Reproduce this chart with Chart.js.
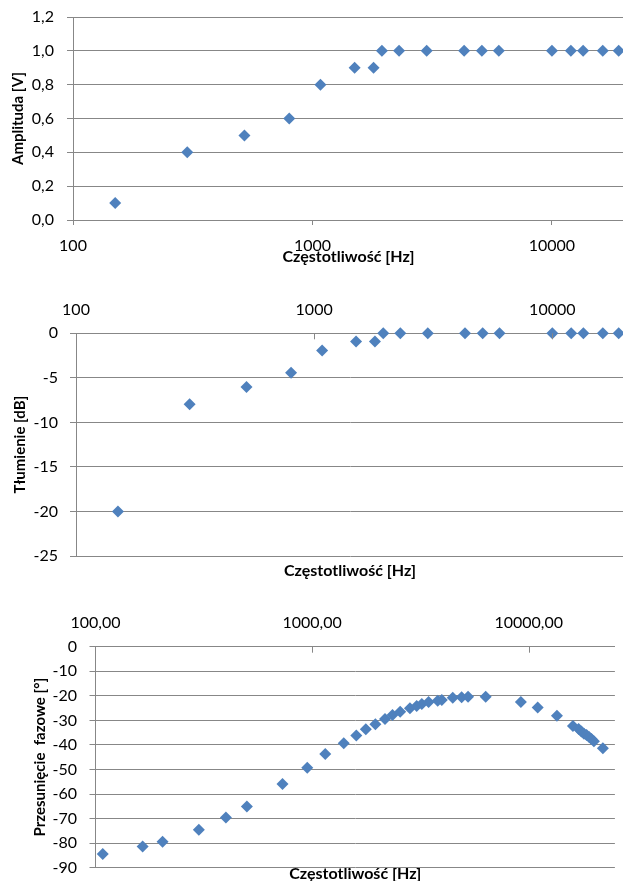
<!DOCTYPE html>
<html>
<head>
<meta charset="utf-8">
<script src="https://cdn.jsdelivr.net/npm/chart.js@4/dist/chart.umd.min.js"></script>
<style>
  html, body { margin: 0; padding: 0; background: #fff; }
  body { width: 623px; height: 881px; overflow: hidden; position: relative; }
  canvas { position: absolute; left: 0; }
</style>
</head>
<body>
<canvas id="amp" width="630" height="270" style="top:0px"></canvas>
<canvas id="db" width="630" height="305" style="top:285px"></canvas>
<canvas id="phase" width="630" height="300" style="top:595px"></canvas>
<script>
// dane pomiarowe
const freqAmp = [150, 300, 520, 800, 1080, 1500, 1800, 1950, 2300, 3000, 4300, 5100, 6000, 10000, 12000, 13500, 16300, 19000];
const amplitude = [0.1, 0.4, 0.5, 0.6, 0.8, 0.9, 0.9, 1, 1, 1, 1, 1, 1, 1, 1, 1, 1, 1];
const attenuation = [-20, -7.96, -6.02, -4.44, -1.94, -0.92, -0.92, 0, 0, 0, 0, 0, 0, 0, 0, 0, 0, 0];

const freqPhase = [108, 165, 204, 300, 400, 500, 730, 950, 1150, 1400, 1600, 1770, 1960, 2170, 2350, 2550, 2830, 3040, 3210, 3450, 3800, 3970, 4460, 4900, 5250, 6330, 9200, 11000, 13500, 16000, 17000, 17500, 18000, 18500, 19000, 19500, 20000, 22000];
const phase = [-84.4, -81.4, -79.4, -74.5, -69.6, -65.1, -55.9, -49.3, -43.7, -39.3, -36.2, -33.6, -31.6, -29.4, -27.8, -26.5, -25.1, -24.1, -23.3, -22.5, -22.0, -21.7, -20.8, -20.6, -20.4, -20.4, -22.5, -24.8, -28.1, -32.3, -33.5, -34.5, -35.4, -36.0, -36.8, -37.6, -38.5, -41.4];

const freqTicks = [100, 1000, 10000];
const xTitle = 'Częstotliwość [Hz]';

const GRID = '#878787';
const BLUE = '#4F81BD';
Chart.defaults.font.family = 'Lato';
Chart.defaults.color = '#000';

function pts(xs, ys) {
  return xs.map((x, i) => ({ x: x, y: ys[i] }));
}

function comma(v, d) {
  return Number(v).toFixed(d).replace('.', ',');
}

// kreski podziałki skierowane do wnętrza wykresu (oś na górze)
const innerTicks = {
  id: 'innerTicks',
  afterDraw(chart, args, opts) {
    if (!opts.on) return;
    const sc = chart.scales.x;
    const ctx = chart.ctx;
    const top = chart.chartArea.top;
    ctx.save();
    ctx.strokeStyle = GRID;
    ctx.lineWidth = 1;
    freqTicks.slice(1).forEach(v => {
      const px = Math.round(sc.getPixelForValue(v)) + 0.5;
      ctx.beginPath();
      ctx.moveTo(px, top);
      ctx.lineTo(px, top + 6);
      ctx.stroke();
    });
    ctx.restore();
  }
};

function makeChart(id, cfg) {
  const xOpts = {
    type: 'logarithmic',
    position: cfg.xPos,
    min: 100,
    max: cfg.xMax,
    afterBuildTicks: s => { s.ticks = freqTicks.map(v => ({ value: v })); },
    afterFit: s => { s.height = cfg.xHeight; },
    ticks: {
      font: { size: 16 },
      padding: cfg.xPad,
      maxRotation: 0,
      autoSkip: false,
      callback: v => cfg.xFmt(v)
    },
    grid: { drawOnChartArea: false, drawTicks: cfg.xPos === 'bottom', tickLength: 5, color: GRID },
    border: { color: GRID },
    title: cfg.xPos === 'bottom' ? {
      display: true, text: xTitle, font: { size: 16, weight: 'bold' },
      padding: { top: 0, bottom: cfg.titlePad }
    } : { display: false }
  };
  const scales = {
    x: xOpts,
    y: {
      min: cfg.yMin,
      max: cfg.yMax,
      afterFit: s => { s.width = cfg.yWidth; s.paddingTop = 0; s.paddingBottom = 0; },
      ticks: {
        stepSize: cfg.yStep,
        font: { size: 16 },
        padding: cfg.yPad,
        callback: v => cfg.yFmt(v)
      },
      grid: { color: GRID, tickLength: 6 },
      border: { color: GRID },
      title: {
        display: true, text: cfg.yTitle, font: { size: 15, weight: 'bold' },
        padding: { top: cfg.yTitlePad, bottom: 0 }
      }
    }
  };
  if (cfg.xPos === 'top') {
    // osobna oś tylko dla tytułu pod wykresem
    scales.x2 = {
      type: 'linear',
      position: 'bottom',
      afterFit: s => { s.height = cfg.x2Height; },
      ticks: { display: false },
      grid: { display: false },
      border: { display: false },
      title: {
        display: true, text: xTitle, font: { size: 16, weight: 'bold' },
        padding: { top: 0, bottom: cfg.titlePad }
      }
    };
  }
  return new Chart(document.getElementById(id), {
    type: 'scatter',
    data: {
      datasets: [{
        data: pts(cfg.xs, cfg.ys),
        backgroundColor: BLUE,
        borderColor: BLUE,
        borderWidth: 0,
        pointStyle: 'rectRot',
        pointRadius: 6,
        pointHoverRadius: 6,
        clip: false
      }]
    },
    options: {
      responsive: false,
      animation: false,
      layout: { padding: cfg.layout },
      plugins: {
        legend: { display: false },
        tooltip: { enabled: false },
        innerTicks: { on: cfg.xPos === 'top' }
      },
      scales: scales
    },
    plugins: [innerTicks]
  });
}

makeChart('amp', {
  xs: freqAmp, ys: amplitude,
  xPos: 'bottom', xMax: 20000, xHeight: 50, xPad: 11, titlePad: 3.6,
  xFmt: v => String(v),
  yMin: 0, yMax: 1.2, yStep: 0.2, yWidth: 73, yPad: 13, yTitlePad: 9.6,
  yFmt: v => comma(v, 1),
  yTitle: 'Amplituda [V]',
  layout: { top: 17, left: 0, right: 4.7, bottom: 0 }
});

makeChart('db', {
  xs: freqAmp, ys: attenuation,
  xPos: 'top', xMax: 20000, xHeight: 48.3, xPad: 14.3, x2Height: 34, titlePad: 9.6,
  xFmt: v => String(v),
  yMin: -25, yMax: 0, yStep: 5, yWidth: 76, yPad: 12, yTitlePad: 11.6,
  yFmt: v => String(v),
  yTitle: 'Tłumienie [dB]',
  layout: { top: 0, left: 0, right: 5.2, bottom: 0 }
});

makeChart('phase', {
  xs: freqPhase, ys: phase,
  xPos: 'top', xMax: 25000, xHeight: 51.7, xPad: 14.2, x2Height: 27.3, titlePad: 11.6,
  xFmt: v => comma(v, 2),
  yMin: -90, yMax: 0, yStep: 10, yWidth: 95.5, yPad: 12.5, yTitlePad: 31.6,
  yFmt: v => String(v),
  yTitle: 'Przesunięcie  fazowe [°]',
  layout: { top: 0, left: 0, right: 15.1, bottom: 0 }
});
</script>
</body>
</html>
